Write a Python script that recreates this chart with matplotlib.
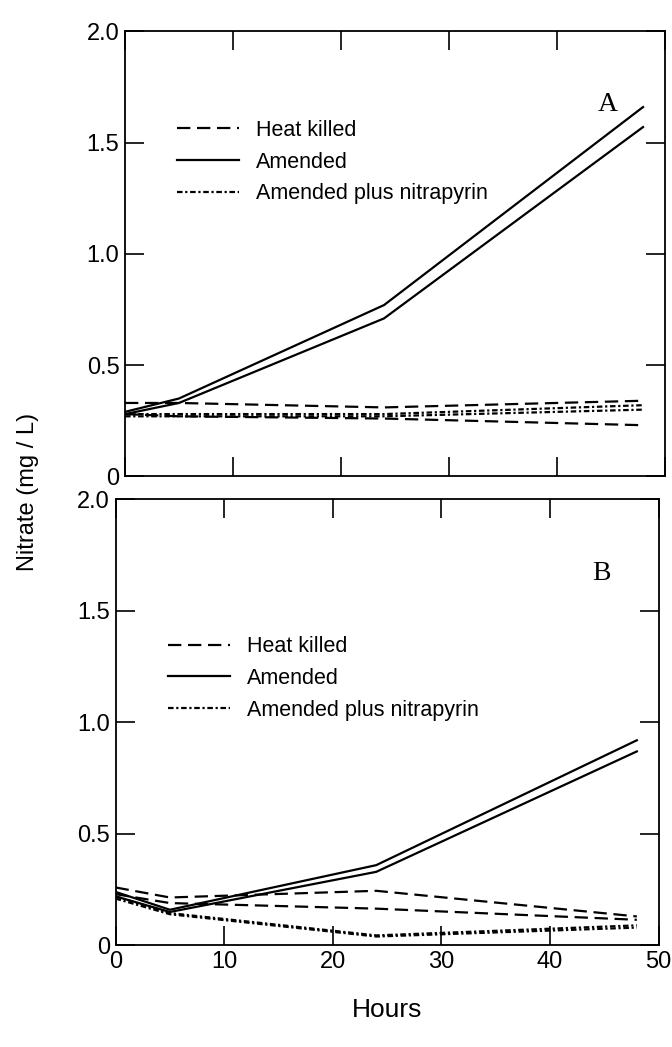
import matplotlib.pyplot as plt

plt.rcParams['font.family'] = ['Liberation Sans Narrow', 'Liberation Sans', 'DejaVu Sans']

hours = [0, 5, 24, 48]

# panel A
a_heat_1 = [0.33, 0.33, 0.31, 0.34]
a_heat_2 = [0.28, 0.27, 0.26, 0.23]
a_amend_1 = [0.29, 0.35, 0.77, 1.66]
a_amend_2 = [0.28, 0.33, 0.71, 1.57]
a_nitra_1 = [0.28, 0.28, 0.28, 0.32]
a_nitra_2 = [0.27, 0.27, 0.27, 0.30]

# panel B
b_heat_1 = [0.26, 0.215, 0.245, 0.13]
b_heat_2 = [0.23, 0.19, 0.165, 0.115]
b_amend_1 = [0.24, 0.16, 0.36, 0.92]
b_amend_2 = [0.22, 0.15, 0.33, 0.87]
b_nitra_1 = [0.22, 0.145, 0.045, 0.09]
b_nitra_2 = [0.21, 0.14, 0.04, 0.08]

x_ticks = [0, 10, 20, 30, 40, 50]
y_ticks = [0, 0.5, 1.0, 1.5, 2.0]
y_labels = ['0', '0.5', '1.0', '1.5', '2.0']

dash = (0, (6, 3))
dashdot = (0, (2.5, 1.2, 1, 1.2))

fig = plt.figure(figsize=(6.72, 10.47), dpi=100)
ax_a = fig.add_axes([0.186, 0.545, 0.803, 0.425])
ax_b = fig.add_axes([0.172, 0.097, 0.808, 0.426])


def draw_panel(ax, heat, amend, nitra, letter, leg_y, show_x):
    for y in heat:
        ax.plot(hours, y, color='black', lw=1.6, linestyle=dash)
    for y in amend:
        ax.plot(hours, y, color='black', lw=1.6, linestyle='-')
    for y in nitra:
        ax.plot(hours, y, color='black', lw=1.6, linestyle=dashdot)
    h1, = ax.plot([], [], color='black', lw=1.6, linestyle=dash)
    h2, = ax.plot([], [], color='black', lw=1.6, linestyle='-')
    h3, = ax.plot([], [], color='black', lw=1.6, linestyle=dashdot)
    ax.legend([h1, h2, h3], ['Heat killed', 'Amended', 'Amended plus nitrapyrin'],
              loc='upper left', bbox_to_anchor=(0.06, leg_y), frameon=False,
              fontsize=15.5, handlelength=2.9, handletextpad=0.8, labelspacing=0.5)
    ax.text(0.895, 0.835, letter, transform=ax.transAxes, fontsize=20,
            family='Liberation Serif', ha='center', va='center')
    ax.set_xlim(0, 50)
    ax.set_ylim(0, 2.0)
    ax.set_xticks(x_ticks)
    ax.set_yticks(y_ticks)
    ax.set_yticklabels(y_labels)
    ax.tick_params(direction='in', length=14, width=1.2, top=True, right=True,
                   labelsize=17, pad=4)
    if not show_x:
        ax.tick_params(labelbottom=False)
    for s in ax.spines.values():
        s.set_linewidth(1.3)


draw_panel(ax_a, [a_heat_1, a_heat_2], [a_amend_1, a_amend_2], [a_nitra_1, a_nitra_2],
           'A', 0.845, False)
draw_panel(ax_b, [b_heat_1, b_heat_2], [b_amend_1, b_amend_2], [b_nitra_1, b_nitra_2],
           'B', 0.737, True)

ax_b.set_xlabel('Hours', fontsize=19, labelpad=18)
fig.text(0.042, 0.53, 'Nitrate (mg / L)', rotation=90, fontsize=17,
         ha='center', va='center')

fig.savefig('out.png', dpi=100)
